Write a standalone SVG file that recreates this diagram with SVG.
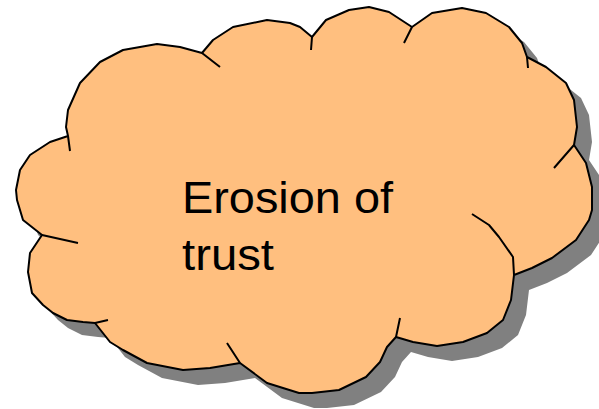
<svg xmlns="http://www.w3.org/2000/svg" width="599" height="409" viewBox="0 0 599 409">
<style>
.fill{fill:#FFBF7F;stroke:none}
.shadow{fill:#808080;stroke:none}
.line{fill:none;stroke:#000;stroke-width:2;stroke-linejoin:round;stroke-linecap:butt}
.label{font-family:"Liberation Sans",Arial,sans-serif;font-size:44px;fill:#000}
</style>
<defs>
<path id="cloud" d="M42,235 L23,220 L17,200 L16,190 L20,170 L30,155 L50,142 L68,136 L66,127 L68,110 L80,83 L100,62 L123,50 L157,44 L180,47 L202,53 L213,40 L233,27 L267,20 L290,23 L300,27 L312,37 L326,20 L349,10 L369,7 L389,12 L412,27 L432,13 L462,8 L486,13 L509,27 L522,43 L527,57 L546,67 L566,83 L574,100 L577,127 L574,145 L586,163 L592,187 L592,210 L589,220 L576,240 L552,258 L532,268 L514,275 L511,300 L503,320 L487,333 L463,342 L437,346 L413,342 L396,337 L387,347 L380,362 L366,377 L339,390 L312,393 L299,393 L267,383 L240,363 L210,368 L183,370 L147,363 L123,350 L110,342 L95,323 L83,322 L67,320 L53,313 L43,305 L32,293 L28,272 L30,253 Z"/>
</defs>
<g id="cloud-node">
<use href="#cloud" class="shadow" transform="translate(15,15)"/>
<use href="#cloud" class="fill"/>
<use href="#cloud" class="line"/>
<path class="line" d="M68,136 L70,151 M202,53 L220,67 M312,37 L311,50 M412,27 L404,43 M527,57 L528,68 M574,145 L554,168 M514,275 L513,257 L499,237 L489,225 L472,214 M396,337 L400,318 M240,363 L227,343 M95,323 L108,320 M42,235 L78,243"/>
<text class="label" x="182" y="213" textLength="211" lengthAdjust="spacingAndGlyphs">Erosion of</text>
<text class="label" x="182" y="270" textLength="92" lengthAdjust="spacingAndGlyphs">trust</text>
</g>
<g id="connectors"/>
</svg>
